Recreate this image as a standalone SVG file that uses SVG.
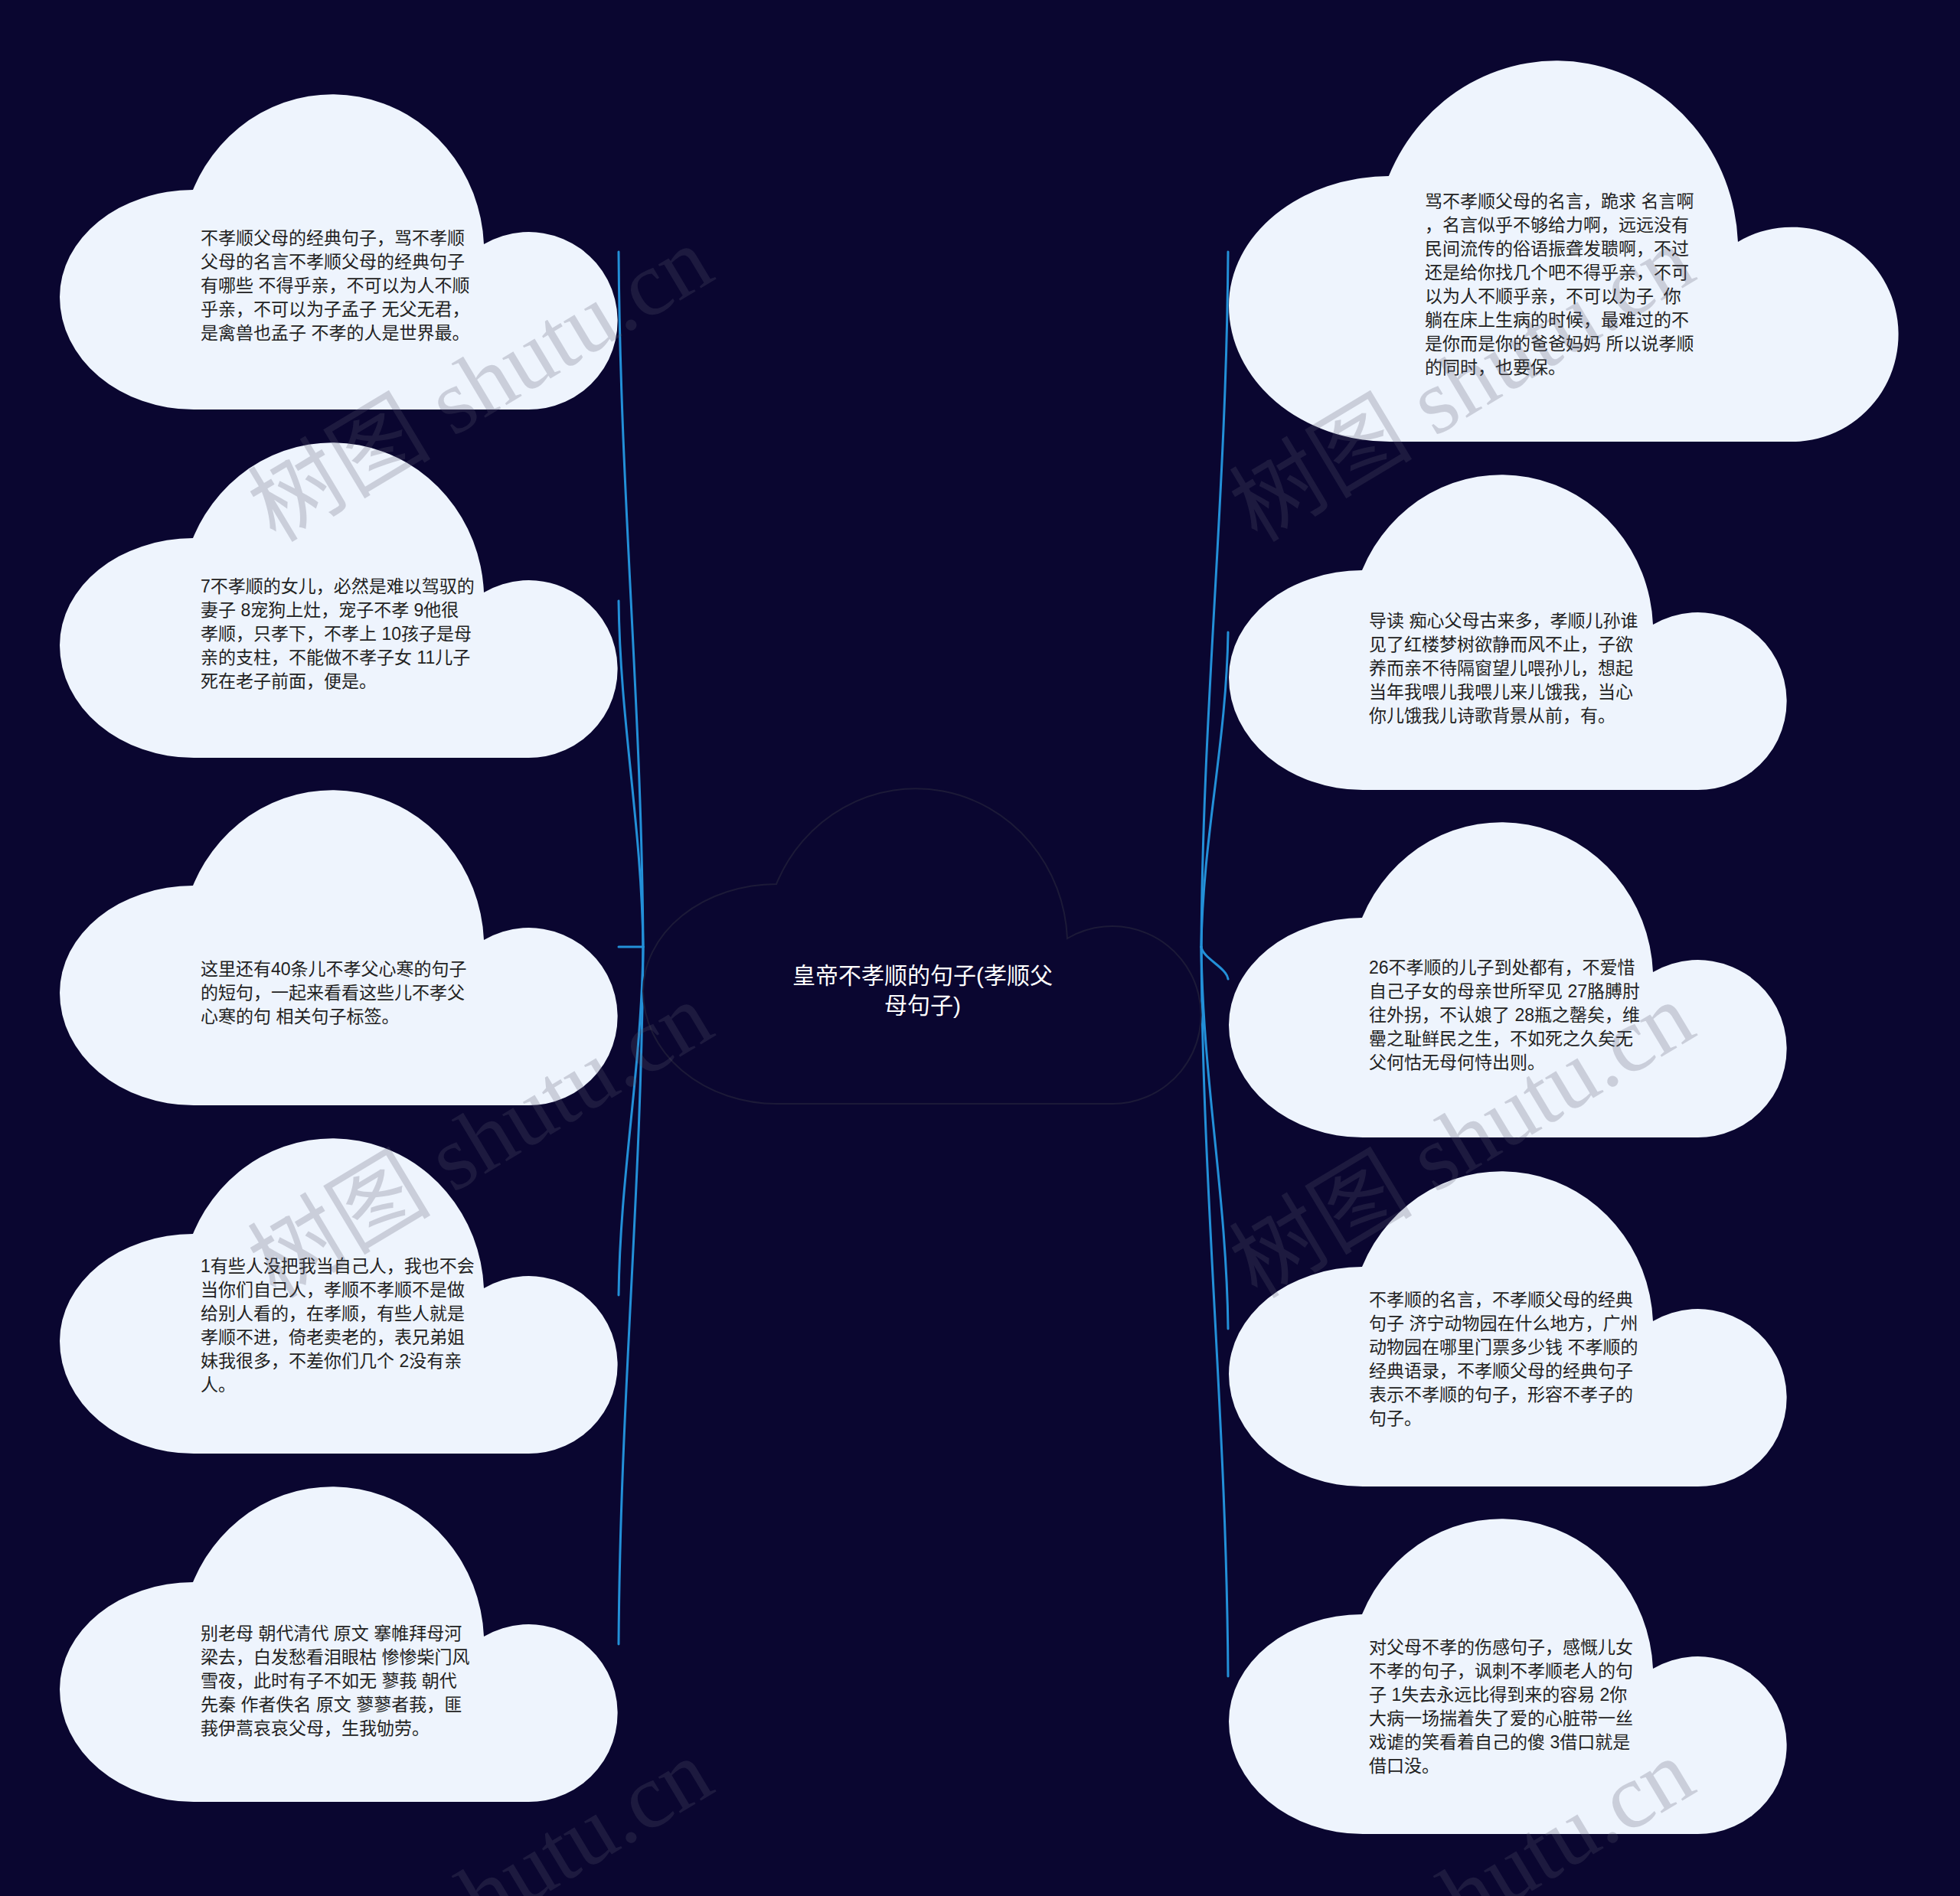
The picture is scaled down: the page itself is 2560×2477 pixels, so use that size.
<svg xmlns="http://www.w3.org/2000/svg" xmlns:xlink="http://www.w3.org/1999/xlink" width="2560" height="2477" viewBox="0 0 2560 2477">
<style>
.bg{fill:#0a0630}
.cloud{fill:#eef4fd}
.root{fill:#0a0630;stroke:#1c1a38;stroke-width:2}
.t{font-family:"Liberation Sans","Noto Sans CJK SC",sans-serif;font-size:23px;fill:#222222;white-space:pre}
.rt{font-family:"Liberation Sans","Noto Sans CJK SC",sans-serif;font-size:30px;fill:#ffffff;text-anchor:middle}
.c{fill:none;stroke:#2390d8;stroke-width:3;stroke-linecap:round}
.wm{font-family:"Liberation Serif","Noto Sans CJK SC",serif;font-size:120px;fill:#5a5a70;opacity:0.24}
</style>
<defs>
<path id="cl" d="M 175 412 A 175 147 0 0 1 0 265 A 175 140 0 0 1 174 125 A 198 205 0 0 1 554 196 A 116 116 0 1 1 608 412 Z"/>
</defs>
<rect class="bg" x="0" y="0" width="2560" height="2477"/>

<g id="connectors">
<path class="c" d="M 840 1237 C 838 919, 810 647, 808 329"/>
<path class="c" d="M 840 1237 C 838 1077, 810 945, 808 785"/>
<path class="c" d="M 840 1237 L 808 1237"/>
<path class="c" d="M 840 1237 C 838 1396, 810 1533, 808 1692"/>
<path class="c" d="M 840 1237 C 838 1556, 810 1829, 808 2148"/>
<path class="c" d="M 1569 1237 C 1571 919, 1602 647, 1604 329"/>
<path class="c" d="M 1569 1237 C 1571 1093, 1602 970, 1604 826"/>
<path class="c" d="M 1569 1237 C 1571 1252, 1602 1264, 1604 1279"/>
<path class="c" d="M 1569 1237 C 1571 1412, 1602 1561, 1604 1736"/>
<path class="c" d="M 1569 1237 C 1571 1571, 1602 1856, 1604 2190"/>
</g>

<g id="root">
<use href="#cl" class="root" transform="translate(840,1030)"/>
<text class="rt" x="1205" y="1285">皇帝不孝顺的句子(孝顺父</text>
<text class="rt" x="1205" y="1324">母句子)</text>
</g>

<g id="n-l1">
<use href="#cl" class="cloud" transform="translate(78,123)"/>
<text class="t" x="262" y="318.5">不孝顺父母的经典句子，骂不孝顺</text>
<text class="t" x="262" y="349.5">父母的名言不孝顺父母的经典句子</text>
<text class="t" x="262" y="380.5">有哪些 不得乎亲，不可以为人不顺</text>
<text class="t" x="262" y="411.5">乎亲，不可以为子孟子 无父无君，</text>
<text class="t" x="262" y="442.5">是禽兽也孟子 不孝的人是世界最。</text>
</g>

<g id="n-l2">
<use href="#cl" class="cloud" transform="translate(78,578)"/>
<text class="t" x="262" y="773.5">7不孝顺的女儿，必然是难以驾驭的</text>
<text class="t" x="262" y="804.5">妻子 8宠狗上灶，宠子不孝 9他很</text>
<text class="t" x="262" y="835.5">孝顺，只孝下，不孝上 10孩子是母</text>
<text class="t" x="262" y="866.5">亲的支柱，不能做不孝子女 11儿子</text>
<text class="t" x="262" y="897.5">死在老子前面，便是。</text>
</g>

<g id="n-l3">
<use href="#cl" class="cloud" transform="translate(78,1032)"/>
<text class="t" x="262" y="1273.5">这里还有40条儿不孝父心寒的句子</text>
<text class="t" x="262" y="1304.5">的短句，一起来看看这些儿不孝父</text>
<text class="t" x="262" y="1335.5">心寒的句 相关句子标签。</text>
</g>

<g id="n-l4">
<use href="#cl" class="cloud" transform="translate(78,1487)"/>
<text class="t" x="262" y="1661.5">1有些人没把我当自己人，我也不会</text>
<text class="t" x="262" y="1692.5">当你们自己人，孝顺不孝顺不是做</text>
<text class="t" x="262" y="1723.5">给别人看的，在孝顺，有些人就是</text>
<text class="t" x="262" y="1754.5">孝顺不进，倚老卖老的，表兄弟姐</text>
<text class="t" x="262" y="1785.5">妹我很多，不差你们几个 2没有亲</text>
<text class="t" x="262" y="1816.5">人。</text>
</g>

<g id="n-l5">
<use href="#cl" class="cloud" transform="translate(78,1942)"/>
<text class="t" x="262" y="2141.5">别老母 朝代清代 原文 搴帷拜母河</text>
<text class="t" x="262" y="2172.5">梁去，白发愁看泪眼枯 惨惨柴门风</text>
<text class="t" x="262" y="2203.5">雪夜，此时有子不如无 蓼莪 朝代</text>
<text class="t" x="262" y="2234.5">先秦 作者佚名 原文 蓼蓼者莪，匪</text>
<text class="t" x="262" y="2265.5">莪伊蒿哀哀父母，生我劬劳。</text>
</g>

<g id="n-r1">
<use href="#cl" class="cloud" transform="translate(1605,79) scale(1.2003,1.2087)"/>
<text class="t" x="1861" y="270.5">骂不孝顺父母的名言，跪求 名言啊</text>
<text class="t" x="1861" y="301.5">，名言似乎不够给力啊，远远没有</text>
<text class="t" x="1861" y="332.5">民间流传的俗语振聋发聩啊，不过</text>
<text class="t" x="1861" y="363.5">还是给你找几个吧不得乎亲，不可</text>
<text class="t" x="1861" y="394.5">以为人不顺乎亲，不可以为子  你</text>
<text class="t" x="1861" y="425.5">躺在床上生病的时候，最难过的不</text>
<text class="t" x="1861" y="456.5">是你而是你的爸爸妈妈 所以说孝顺</text>
<text class="t" x="1861" y="487.5">的同时，也要保。</text>
</g>

<g id="n-r2">
<use href="#cl" class="cloud" transform="translate(1605,620)"/>
<text class="t" x="1788" y="818.5">导读 痴心父母古来多，孝顺儿孙谁</text>
<text class="t" x="1788" y="849.5">见了红楼梦树欲静而风不止，子欲</text>
<text class="t" x="1788" y="880.5">养而亲不待隔窗望儿喂孙儿，想起</text>
<text class="t" x="1788" y="911.5">当年我喂儿我喂儿来儿饿我，当心</text>
<text class="t" x="1788" y="942.5">你儿饿我儿诗歌背景从前，有。</text>
</g>

<g id="n-r3">
<use href="#cl" class="cloud" transform="translate(1605,1074)"/>
<text class="t" x="1788" y="1271.5">26不孝顺的儿子到处都有，不爱惜</text>
<text class="t" x="1788" y="1302.5">自己子女的母亲世所罕见 27胳膊肘</text>
<text class="t" x="1788" y="1333.5">往外拐，不认娘了 28瓶之罄矣，维</text>
<text class="t" x="1788" y="1364.5">罍之耻鲜民之生，不如死之久矣无</text>
<text class="t" x="1788" y="1395.5">父何怙无母何恃出则。</text>
</g>

<g id="n-r4">
<use href="#cl" class="cloud" transform="translate(1605,1530)"/>
<text class="t" x="1788" y="1705.5">不孝顺的名言，不孝顺父母的经典</text>
<text class="t" x="1788" y="1736.5">句子 济宁动物园在什么地方，广州</text>
<text class="t" x="1788" y="1767.5">动物园在哪里门票多少钱 不孝顺的</text>
<text class="t" x="1788" y="1798.5">经典语录，不孝顺父母的经典句子</text>
<text class="t" x="1788" y="1829.5">表示不孝顺的句子，形容不孝子的</text>
<text class="t" x="1788" y="1860.5">句子。</text>
</g>

<g id="n-r5">
<use href="#cl" class="cloud" transform="translate(1605,1984)"/>
<text class="t" x="1788" y="2159.5">对父母不孝的伤感句子，感慨儿女</text>
<text class="t" x="1788" y="2190.5">不孝的句子，讽刺不孝顺老人的句</text>
<text class="t" x="1788" y="2221.5">子 1失去永远比得到来的容易 2你</text>
<text class="t" x="1788" y="2252.5">大病一场揣着失了爱的心脏带一丝</text>
<text class="t" x="1788" y="2283.5">戏谑的笑看着自己的傻 3借口就是</text>
<text class="t" x="1788" y="2314.5">借口没。</text>
</g>

<g id="watermark">
<text class="wm" x="360" y="710" transform="rotate(-31 360 710)">树图 shutu.cn</text>
<text class="wm" x="1642" y="710" transform="rotate(-31 1642 710)">树图 shutu.cn</text>
<text class="wm" x="360" y="1698" transform="rotate(-31 360 1698)">树图 shutu.cn</text>
<text class="wm" x="1642" y="1698" transform="rotate(-31 1642 1698)">树图 shutu.cn</text>
<text class="wm" x="360" y="2686" transform="rotate(-31 360 2686)">树图 shutu.cn</text>
<text class="wm" x="1642" y="2686" transform="rotate(-31 1642 2686)">树图 shutu.cn</text>
</g>
</svg>
